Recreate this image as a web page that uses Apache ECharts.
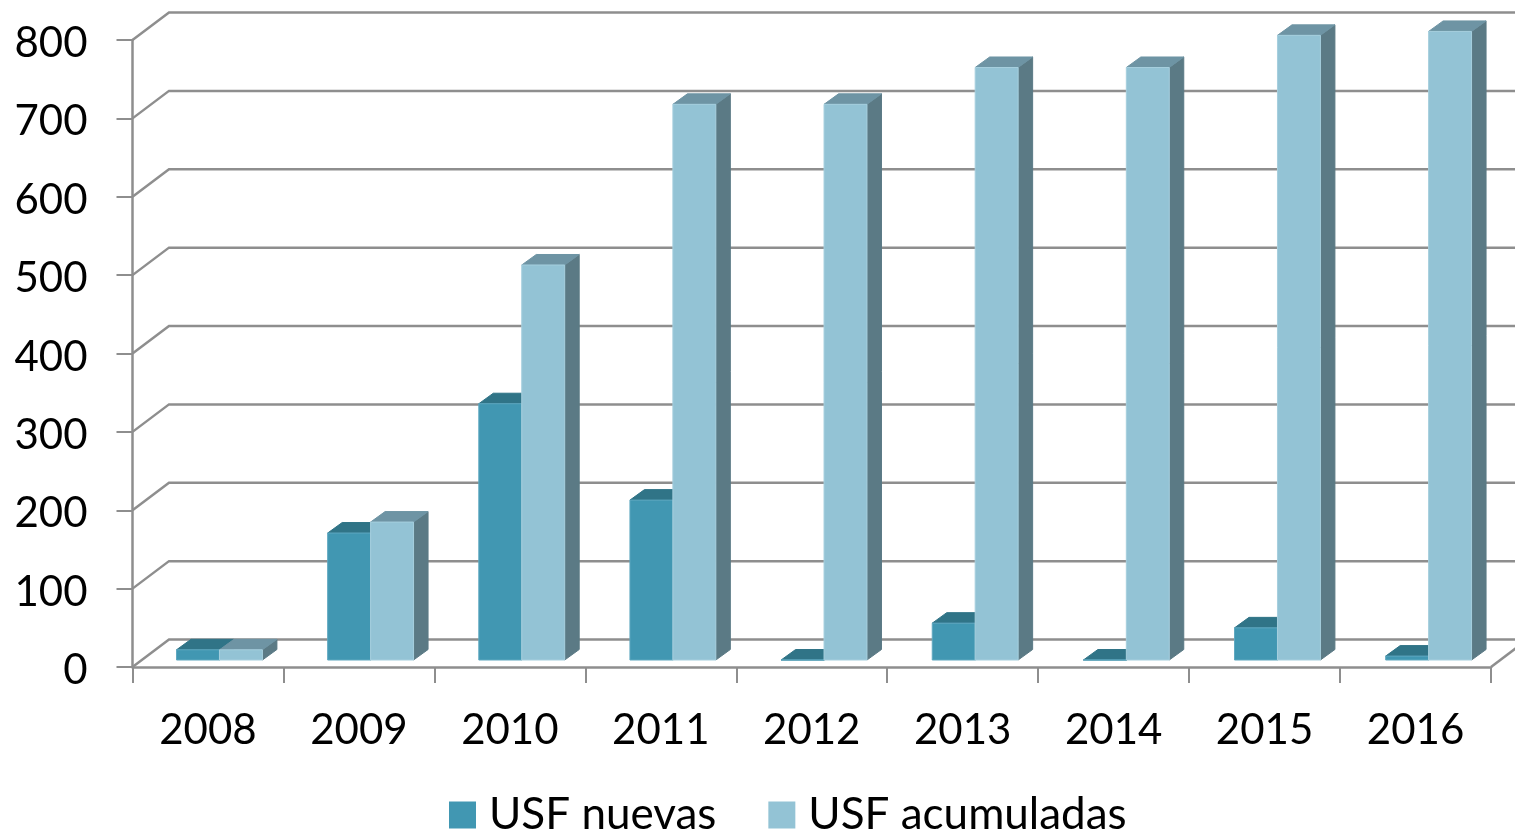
<!DOCTYPE html>
<html><head><meta charset="utf-8">
<style>html,body{margin:0;padding:0;background:#fff}#c{width:1515px;height:833px}</style>
<script src="https://cdn.jsdelivr.net/npm/echarts@6/dist/echarts.min.js"></script>
</head><body><div id="c"></div>
<script>
const categories = ['2008','2009','2010','2011','2012','2013','2014','2015','2016'];
const usfNuevas = [13,162,327,204,0,47,0,41,5];
const usfAcumuladas = [13,176,504,709,709,756,756,797,802];
const yTicks = [0,100,200,300,400,500,600,700,800];

const FONT = 'Lato';
const GRID = '#8e8e8e';
const WALL = {dx: 36.5, dy: -27.5};
const BAR = {inset: -7, depthX: 14.5, depthY: -10.5, startX: 1, stepX: 0.2};

function poly(points, fill, stroke) {
  return {type:'polygon', shape:{points}, style:{fill, stroke: stroke || fill, lineWidth:1}};
}
function barRenderer(slot, c) {
  return function (params, api) {
    const idx = api.value(0);
    const base = api.coord([idx, 0]);
    const top = api.coord([idx, api.value(1)]);
    const band = api.size([1, 0])[0];
    const w = band * 0.2845;
    const x0 = base[0] - band * 0.215 + BAR.startX + idx * BAR.stepX + slot * w;
    const x1 = x0 + w;
    const yb = base[1] + BAR.inset, yt = top[1] + BAR.inset;
    const dx = BAR.depthX, dy = BAR.depthY;
    return {type:'group', children:[
      poly([[x1,yb],[x1+dx,yb+dy],[x1+dx,yt+dy],[x1,yt]], c.side),
      poly([[x0,yt],[x0+dx,yt+dy],[x1+dx,yt+dy],[x1,yt]], c.top),
      poly([[x0,yb],[x1,yb],[x1,yt],[x0,yt]], c.front, c.edge)
    ]};
  };
}
function wallRenderer(params, api) {
  const v = api.value(1);
  const p = api.coord([0, v]);
  const band = api.size([1, 0])[0];
  const x0 = p[0] - band / 2, y0 = p[1];
  const xEnd = x0 + band * categories.length;
  const children = [{type:'polyline', shape:{points:[[x0,y0],[x0+WALL.dx,y0+WALL.dy],[xEnd+WALL.dx,y0+WALL.dy]]},
    style:{fill:'none', stroke:GRID, lineWidth:2.5}}];
  if (v === 0) children.push({type:'line', shape:{x1:xEnd,y1:y0,x2:xEnd+WALL.dx,y2:y0+WALL.dy},
    style:{stroke:GRID, lineWidth:2.5}});
  return {type:'group', children};
}

const chart = echarts.init(document.getElementById('c'), null, {renderer:'canvas'});
chart.setOption({
  animation:false,
  backgroundColor:'#fff',
  grid:{left:132.5, top:40, width:1358.5, height:627, containLabel:false},
  xAxis:{type:'category', data:categories, boundaryGap:true,
    axisLine:{lineStyle:{color:GRID,width:2.5}},
    axisTick:{show:true,length:16,alignWithLabel:false,lineStyle:{color:GRID,width:2}},
    axisLabel:{fontFamily:FONT,fontSize:42,color:'#000',margin:42,interval:0},
    splitLine:{show:false}},
  yAxis:{type:'value', min:0, max:800, interval:100,
    axisLine:{show:true,lineStyle:{color:GRID,width:2.5}},
    axisTick:{show:true,length:16,lineStyle:{color:GRID,width:2}},
    axisLabel:{fontFamily:FONT,fontSize:42,color:'#000',margin:45,
      formatter:v=>'{a|'+v+'}',
      rich:{a:{fontFamily:FONT,fontSize:42,color:'#000',padding:[7,0,0,0]}}},
    splitLine:{show:false}},
  legend:{left:444, top:788, itemWidth:27, itemHeight:27, itemGap:52, icon:'rect',
    data:['USF nuevas','USF acumuladas'],
    textStyle:{fontFamily:FONT,fontSize:44,color:'#000',padding:[0,0,0,8]}},
  series:[
    {type:'custom', name:'wall', silent:true, z:1, clip:false, renderItem:wallRenderer,
      data:yTicks.map(v=>[0,v]), encode:{x:0,y:1}},
    {type:'custom', name:'USF nuevas', z:3, clip:false, itemStyle:{color:'#4197b2'},
      renderItem:barRenderer(0,{front:'#4197b2',top:'#307487',side:'#2f7286',edge:'#5fa8c0'}),
      data:usfNuevas.map((v,i)=>[i,v]), encode:{x:0,y:1}},
    {type:'custom', name:'USF acumuladas', z:4, clip:false, itemStyle:{color:'#93c3d5'},
      renderItem:barRenderer(1,{front:'#93c3d5',top:'#6e94a4',side:'#5b7a85',edge:'#a6cfde'}),
      data:usfAcumuladas.map((v,i)=>[i,v]), encode:{x:0,y:1}}
  ]
});
</script></body></html>
